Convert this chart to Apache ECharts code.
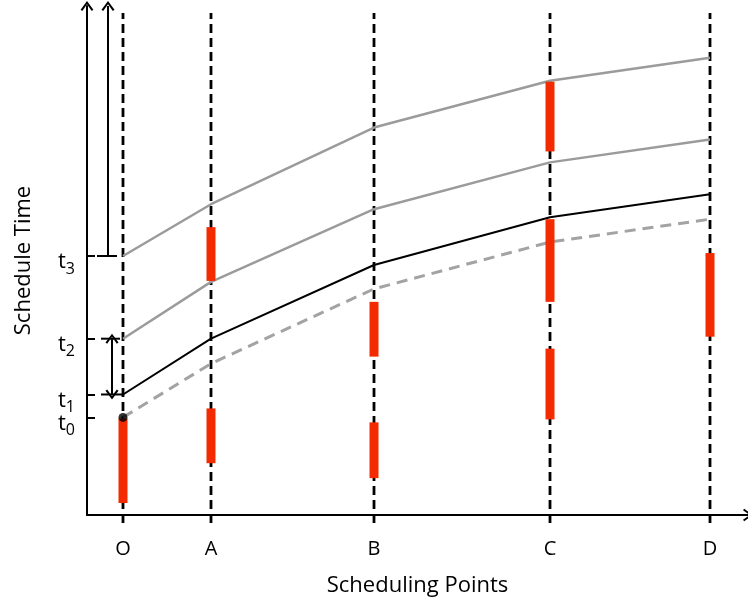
<!DOCTYPE html>
<html><head><meta charset="utf-8">
<script src="https://cdn.jsdelivr.net/npm/echarts@6/dist/echarts.min.js"></script>
<style>html,body{margin:0;padding:0;background:#fff}#c{width:748px;height:602px}</style>
</head><body><div id="c"></div>
<script>
// Scheduling points (names and their positions along the time axis)
const pointNames = ['O', 'A', 'B', 'C', 'D'];
const pointPos = [36, 124, 287, 463, 623];
// Schedule time ticks t0..t3
const tickNames = ['0', '1', '2', '3'];
const tickValues = [98, 121, 177, 260];
// Curves (schedule time at each scheduling point)
const upperGray = [260, 312, 389, 436, 459];
const midGray = [177, 234, 307, 354, 377];
const blackLine = [121, 177, 251, 299, 322];
const dashedGray = [98, 152, 227, 274, 297];
// Red execution bars: [point index, low, high]
const redBars = [
  [0, 12, 97], [1, 235, 289], [1, 52, 107], [2, 159, 214], [2, 37, 93],
  [3, 365, 435], [3, 214, 297], [3, 96, 167], [4, 179, 263]
];
// annotation segments near the y axis: [x1, y, x2]
const caps = [[14, 121, 36], [14, 177, 33], [10, 260, 30]];
const deadlineArrowX = 21;
const gapArrowX = 25;
const yMax = 511, xMax = 661;

const chevron = 'path://M0,9 L6.5,0 L13,9 L11.3,10.2 L6.5,3.2 L1.7,10.2 Z';
const FONT = 'Open Sans';

const chart = echarts.init(document.getElementById('c'), null, {renderer: 'canvas'});

function seg(stroke, width, dash) {
  return function (params, api) {
    const a = api.coord([api.value(0), api.value(1)]);
    const b = api.coord([api.value(2), api.value(3)]);
    return {type: 'line', shape: {x1: a[0], y1: a[1], x2: b[0], y2: b[1]},
      style: {stroke: stroke, lineWidth: width, lineDash: dash || null}};
  };
}

function tLabel(values) {
  return {
    customValues: values, margin: 12, hideOverlap: false,
    formatter: v => '{t|t}{s|' + tickNames[tickValues.indexOf(v)] + '}',
    padding: [12, 0, 0, 0],
    rich: {
      t: {fontFamily: FONT, fontSize: 22, color: '#000', lineHeight: 22, verticalAlign: 'top'},
      s: {fontFamily: FONT, fontSize: 16, color: '#000', lineHeight: 16, padding: [14, 0, 0, 0]}
    }
  };
}
const tickStyle = v => ({show: true, inside: true, length: 8, customValues: v, lineStyle: {color: '#000', width: 2}});

const option = {
  animation: false,
  backgroundColor: '#fff',
  grid: {left: 87, right: 0, top: 6, bottom: 85},
  xAxis: {
    type: 'value', min: 0, max: xMax,
    name: 'Scheduling Points', nameLocation: 'middle', nameGap: 60,
    nameTextStyle: {fontFamily: FONT, fontSize: 22, color: '#000'},
    axisLine: {show: true, lineStyle: {color: '#000', width: 2}, symbol: ['none', chevron], symbolSize: [13, 10]},
    axisTick: {show: false},
    splitLine: {show: false},
    axisLabel: {
      customValues: pointPos, margin: 24, hideOverlap: false,
      formatter: v => pointNames[pointPos.indexOf(v)],
      fontFamily: FONT, fontSize: 20, color: '#000'
    }
  },
  yAxis: [{
    type: 'value', min: 0, max: yMax, position: 'left',
    name: 'Schedule Time', nameLocation: 'middle', nameGap: 52, nameRotate: 90,
    nameTextStyle: {fontFamily: FONT, fontSize: 22, color: '#000'},
    axisLine: {show: true, lineStyle: {color: '#000', width: 2}, symbol: ['none', chevron], symbolSize: [13, 10]},
    axisTick: tickStyle(tickValues.slice(1)),
    splitLine: {show: false},
    axisLabel: tLabel(tickValues.slice(1))
  }, {
    type: 'value', min: 0, max: yMax, position: 'left', offset: 0,
    axisLine: {show: false},
    axisTick: tickStyle(tickValues.slice(0, 1)),
    splitLine: {show: false},
    axisLabel: tLabel(tickValues.slice(0, 1))
  }],
  series: [
    { // dashed vertical guides at each scheduling point
      type: 'custom', clip: false, z: 1,
      data: pointPos.map(p => [p, -8, p, 504]),
      encode: {x: [0, 2], y: [1, 3]},
      renderItem: seg('#000', 2.8, [9, 5])
    },
    { // caps near the y axis
      type: 'custom', clip: false, z: 3,
      data: caps.map(c => [c[0], c[1], c[2], c[1]]),
      encode: {x: [0, 2], y: [1, 3]},
      renderItem: seg('#000', 2)
    },
    {type: 'line', data: pointPos.map((p, i) => [p, upperGray[i]]), symbol: 'none', z: 4,
      lineStyle: {color: '#9b9b9b', width: 2.5}},
    {type: 'line', data: pointPos.map((p, i) => [p, midGray[i]]), symbol: 'none', z: 4,
      lineStyle: {color: '#9b9b9b', width: 2.5}},
    {type: 'line', data: pointPos.map((p, i) => [p, blackLine[i]]), symbol: 'none', z: 4,
      lineStyle: {color: '#000', width: 2}},
    {type: 'line', data: pointPos.map((p, i) => [p, dashedGray[i]]), symbol: 'none', z: 4,
      lineStyle: {color: '#a3a3a3', width: 3, type: [11, 7]}},
    { // red bars
      type: 'custom', clip: false, z: 5,
      data: redBars.map(b => [pointPos[b[0]], b[1], b[2]]),
      encode: {x: 0, y: [1, 2]},
      renderItem: function (params, api) {
        const a = api.coord([api.value(0), api.value(2)]);
        const b = api.coord([api.value(0), api.value(1)]);
        return {type: 'rect', shape: {x: a[0] - 4.5, y: a[1], width: 9, height: b[1] - a[1]},
          style: {fill: '#f42a00'}};
      }
    },
    { // t0 start dot
      type: 'scatter', z: 6, symbolSize: 9, itemStyle: {color: '#000'},
      data: [[pointPos[0], dashedGray[0]]]
    },
    { // arrows
      type: 'line', data: [], z: 6,
      markLine: {
        silent: true, animation: false, label: {show: false},
        lineStyle: {color: '#000', width: 2, type: 'solid'},
        symbolSize: [13, 10],
        data: [
          [{coord: [deadlineArrowX, tickValues[3]], symbol: 'none'}, {coord: [deadlineArrowX, yMax], symbol: chevron}],
          [{coord: [gapArrowX, tickValues[1]], symbol: chevron}, {coord: [gapArrowX, tickValues[2]], symbol: chevron}]
        ]
      }
    }
  ]
};
chart.setOption(option);
</script>
</body></html>
